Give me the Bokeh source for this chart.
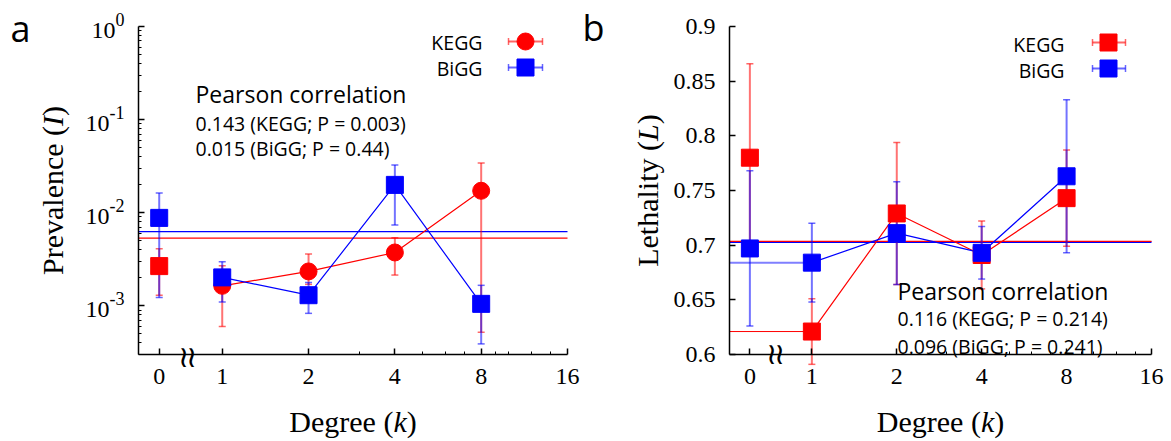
import math
from bokeh.plotting import figure
from bokeh.models import FixedTicker, Label, CustomJSTickFormatter, Range1d
from bokeh.layouts import row
from bokeh.embed import file_html
from bokeh.resources import INLINE

# ---------------- data ----------------
degrees = [0, 1, 2, 4, 8]
tick_degrees = [0, 1, 2, 4, 8, 16]
minor_degrees = [3, 5, 6, 7, 9, 10, 12, 14]

prev_kegg = [0.00267, 0.00164, 0.00234, 0.00374, 0.0172]
prev_kegg_lo = [0.0013, 0.0006, 0.0017, 0.00214, 0.00052]
prev_kegg_hi = [0.0041, 0.0027, 0.0036, 0.0054, 0.0342]
prev_bigg = [0.0088, 0.00202, 0.0013, 0.0199, 0.00105]
prev_bigg_lo = [0.00123, 0.0011, 0.00083, 0.0074, 0.00039]
prev_bigg_hi = [0.0163, 0.00297, 0.00178, 0.0326, 0.00166]
prev_mean_kegg = 0.00534
prev_mean_bigg = 0.00625

leth_kegg = [0.780, 0.621, 0.729, 0.691, 0.743]
leth_kegg_err = [0.086, 0.030, 0.065, 0.031, 0.044]
leth_bigg = [0.697, 0.684, 0.711, 0.693, 0.763]
leth_bigg_err = [0.071, 0.036, 0.047, 0.024, 0.070]
leth_mean_kegg = 0.7035
leth_mean_bigg = 0.7027

prev_yticks = [1e-3, 1e-2, 1e-1, 1.0]
leth_yticks = [0.6, 0.65, 0.7, 0.75, 0.8, 0.85, 0.9]

pearson_prev = ["0.143 (KEGG; P = 0.003)", "0.015 (BiGG; P = 0.44)"]
pearson_leth = ["0.116 (KEGG; P = 0.214)", "0.096 (BiGG; P = 0.241)"]

# ---------------- layout constants ----------------
RED = "#ff0000"
BLUE = "#0000ff"
SERIF = "Liberation Serif"
SANS = "Open Sans"
XS, XE = -0.97, 4.0
ZERO_POS = -0.73
H = 441
W1, W2 = 606, 565
FRAME_TOP, FRAME_BOT = 26, 354
L_LEFT, L_RIGHT = 138, 567
R_LEFT, R_RIGHT = 729, 1151
PREV_RANGE = (3e-4, 1.0)
LETH_RANGE = (0.6, 0.9)

SXL = (XE - XS) / (L_RIGHT - L_LEFT)
SXR = (XE - XS) / (R_RIGHT - R_LEFT)
DL = math.log10(PREV_RANGE[1] / PREV_RANGE[0]) / (FRAME_BOT - FRAME_TOP)
DR = (LETH_RANGE[1] - LETH_RANGE[0]) / (FRAME_BOT - FRAME_TOP)


def xpos(k):
    return ZERO_POS if k == 0 else math.log2(k)


def xl(px):
    return XS + (px - L_LEFT) * SXL


def xr(px):
    return XS + (px - R_LEFT) * SXR


def yl(py):
    return 10 ** (math.log10(PREV_RANGE[1]) - (py - FRAME_TOP) * DL)


def yr(py):
    return LETH_RANGE[1] - (py - FRAME_TOP) * DR


xs = [xpos(k) for k in degrees]


def style(p, ybounds, ybottom):
    p.grid.visible = False
    p.outline_line_color = None
    p.background_fill_color = "white"
    p.border_fill_color = "white"
    for ax in p.axis:
        ax.axis_line_width = 1.5
        ax.axis_line_color = "black"
        ax.major_tick_in = 6
        ax.major_tick_out = 0
        ax.minor_tick_in = 3
        ax.minor_tick_out = 0
        ax.major_tick_line_width = 1.5
        ax.major_tick_line_color = "black"
        ax.minor_tick_line_color = "black"
        ax.major_label_text_font = SERIF
        ax.major_label_text_font_size = "24px"
        ax.major_label_text_color = "black"
    p.xaxis.fixed_location = ybottom
    p.xaxis.bounds = (XS, XE)
    p.yaxis.fixed_location = XS
    p.yaxis.bounds = ybounds
    p.xaxis.ticker = FixedTicker(ticks=[xpos(k) for k in tick_degrees],
                                 minor_ticks=[math.log2(m) for m in minor_degrees])
    p.xaxis.major_label_overrides = {xpos(k): str(k) for k in tick_degrees}
    p.xaxis.major_label_standoff = 14


def lab(p, x, y, text, font=SANS, size="20px", align="left", baseline="middle",
        style_="normal", angle=0.0):
    p.add_layout(Label(x=x, y=y, text=text, text_font=font, text_font_size=size,
                       text_align=align, text_baseline=baseline, text_font_style=style_,
                       angle=angle, angle_units="rad", text_color="black"))


def errbars(p, x, lo, hi, color):
    p.segment(x0=x, x1=x, y0=lo, y1=hi, line_color=color, line_alpha=0.55, line_width=2)
    p.scatter(x=x + x, y=lo + hi, marker="dash", size=7, line_color=color,
              line_alpha=0.6, line_width=1.5)


def make_fig(width, xrng, yrng, log):
    kw = dict(width=width, height=H, x_range=Range1d(*xrng), y_range=Range1d(*yrng),
              output_backend="svg", toolbar_location=None,
              min_border_left=0, min_border_right=0, min_border_top=0, min_border_bottom=0)
    if log:
        kw["y_axis_type"] = "log"
    return figure(**kw)


# ================= panel a =================
p1 = make_fig(W1, (xl(0), xl(W1)), (yl(H), yl(0)), True)
style(p1, PREV_RANGE, PREV_RANGE[0])
p1.yaxis.ticker = FixedTicker(ticks=prev_yticks,
                              minor_ticks=[m * 10 ** e for e in (-4, -3, -2, -1) for m in range(2, 10)
                                           if m * 10 ** e >= PREV_RANGE[0]])
p1.yaxis.formatter = CustomJSTickFormatter(code="return ''")

p1.segment(x0=[XS, XS], x1=[XE, XE], y0=[prev_mean_bigg, prev_mean_kegg],
           y1=[prev_mean_bigg, prev_mean_kegg], line_color=[BLUE, RED], line_width=1.2)

p1.line(xs[1:], prev_kegg[1:], line_color=RED, line_width=1.2)
p1.line(xs[1:], prev_bigg[1:], line_color=BLUE, line_width=1.2)
errbars(p1, xs, prev_kegg_lo, prev_kegg_hi, RED)
errbars(p1, xs, prev_bigg_lo, prev_bigg_hi, BLUE)
p1.scatter(xs, prev_kegg, marker=["square" if k == 0 else "circle" for k in degrees],
           size=17, fill_color=RED, line_color=RED)
p1.scatter(xs, prev_bigg, marker="square", size=17, fill_color=BLUE, line_color=BLUE)

# y tick labels 10^e
for t in prev_yticks:
    e = int(round(math.log10(t)))
    sup = str(e)
    wsup = (333 * sup.count("-") + 500 * (len(sup) - sup.count("-"))) * 18 / 1000
    xa = xl(L_LEFT - 14 - wsup)
    lab(p1, xa, t * 10 ** (-4 * DL), "10", font=SERIF, size="24px", align="right")
    lab(p1, xa, t * 10 ** (7 * DL), sup, font=SERIF, size="18px", align="left")

# axis titles
lab(p1, xl(52), yl(274.5), "Prevalence (", font=SERIF, size="30px", angle=math.pi / 2)
lab(p1, xl(52), yl(125.4), "I", font=SERIF, size="30px", angle=math.pi / 2, style_="italic")
lab(p1, xl(52), yl(115.4), ")", font=SERIF, size="30px", angle=math.pi / 2)
lab(p1, xl(288.8), yl(421), "Degree (", font=SERIF, size="30px")
lab(p1, xl(392.9), yl(421), "k", font=SERIF, size="30px", style_="italic")
lab(p1, xl(406.2), yl(421), ")", font=SERIF, size="30px")

# panel letters, break mark
lab(p1, xl(10), yl(28), "a", size="36px")
lab(p1, xl(582), yl(27), "b", size="36px")
for bx in (183, 191):
    lab(p1, xl(bx), yl(356), "≀", font="DejaVu Serif", size="30px", align="center")

# annotation
lab(p1, xl(195), yl(93), "Pearson correlation", size="23px")
lab(p1, xl(195), yl(123), pearson_prev[0], size="19.5px")
lab(p1, xl(195), yl(148), pearson_prev[1], size="19.5px")

# legend
for name, color, mk, py in [("KEGG", RED, "circle", 41), ("BiGG", BLUE, "square", 67)]:
    lab(p1, xl(482), yl(py + 1), name, size="19.5px", align="right")
    p1.segment(x0=[xl(508)], x1=[xl(542)], y0=[yl(py)], y1=[yl(py)], line_color=color,
               line_alpha=0.6, line_width=2)
    p1.scatter([xl(508), xl(542)], [yl(py), yl(py)], marker="dash", angle=math.pi / 2,
               size=7, line_color=color, line_alpha=0.6, line_width=1.5)
    p1.scatter([xl(525)], [yl(py)], marker=mk, size=17, fill_color=color, line_color=color)

# ================= panel b =================
p2 = make_fig(W2, (xr(W1), xr(W1 + W2)), (yr(H), yr(0)), False)
style(p2, LETH_RANGE, LETH_RANGE[0])
p2.yaxis.ticker = FixedTicker(ticks=leth_yticks, minor_ticks=[])
p2.yaxis.major_label_overrides = {v: "%g" % v for v in leth_yticks}
p2.yaxis.major_label_standoff = 14

p2.segment(x0=[XS, XS], x1=[XE, XE], y0=[leth_mean_bigg, leth_mean_kegg],
           y1=[leth_mean_bigg, leth_mean_kegg], line_color=[BLUE, RED], line_width=[1.8, 1.4])

# lines from the left edge to k = 1
p2.segment(x0=[XS], x1=[xs[1]], y0=[leth_bigg[1]], y1=[leth_bigg[1]], line_color=BLUE,
           line_alpha=0.5, line_width=2)
p2.segment(x0=[XS], x1=[xs[1]], y0=[leth_kegg[1]], y1=[leth_kegg[1]], line_color=RED, line_width=1)
p2.line(xs[1:], leth_kegg[1:], line_color=RED, line_width=1.2)
p2.line(xs[1:], leth_bigg[1:], line_color=BLUE, line_width=1.2)
errbars(p2, xs, [v - e for v, e in zip(leth_kegg, leth_kegg_err)],
        [v + e for v, e in zip(leth_kegg, leth_kegg_err)], RED)
errbars(p2, xs, [v - e for v, e in zip(leth_bigg, leth_bigg_err)],
        [v + e for v, e in zip(leth_bigg, leth_bigg_err)], BLUE)
p2.scatter(xs, leth_kegg, marker="square", size=17, fill_color=RED, line_color=RED)
p2.scatter(xs, leth_bigg, marker="square", size=17, fill_color=BLUE, line_color=BLUE)

lab(p2, xr(647), yr(266.3), "Lethality (", font=SERIF, size="30px", angle=math.pi / 2)
lab(p2, xr(647), yr(140.5), "L", font=SERIF, size="30px", angle=math.pi / 2, style_="italic")
lab(p2, xr(647), yr(123.8), ")", font=SERIF, size="30px", angle=math.pi / 2)
lab(p2, xr(876.3), yr(421), "Degree (", font=SERIF, size="30px")
lab(p2, xr(980.4), yr(421), "k", font=SERIF, size="30px", style_="italic")
lab(p2, xr(993.7), yr(421), ")", font=SERIF, size="30px")

for bx in (771, 779):
    lab(p2, xr(bx), yr(353), "≀", font="DejaVu Serif", size="30px", align="center")

lab(p2, xr(897), yr(290), "Pearson correlation", size="23px")
lab(p2, xr(897), yr(318), pearson_leth[0], size="19.5px")
lab(p2, xr(897), yr(346), pearson_leth[1], size="19.5px")

for name, color, py in [("KEGG", RED, 42), ("BiGG", BLUE, 68)]:
    lab(p2, xr(1064), yr(py + 2), name, size="19.5px", align="right")
    p2.segment(x0=[xr(1092)], x1=[xr(1125)], y0=[yr(py)], y1=[yr(py)], line_color=color,
               line_alpha=0.6, line_width=2)
    p2.scatter([xr(1092), xr(1125)], [yr(py), yr(py)], marker="dash", angle=math.pi / 2,
               size=7, line_color=color, line_alpha=0.6, line_width=1.5)
    p2.scatter([xr(1108)], [yr(py)], marker="square", size=17, fill_color=color, line_color=color)

layout = row(p1, p2)
open("out.html", "w").write(file_html(layout, INLINE))
